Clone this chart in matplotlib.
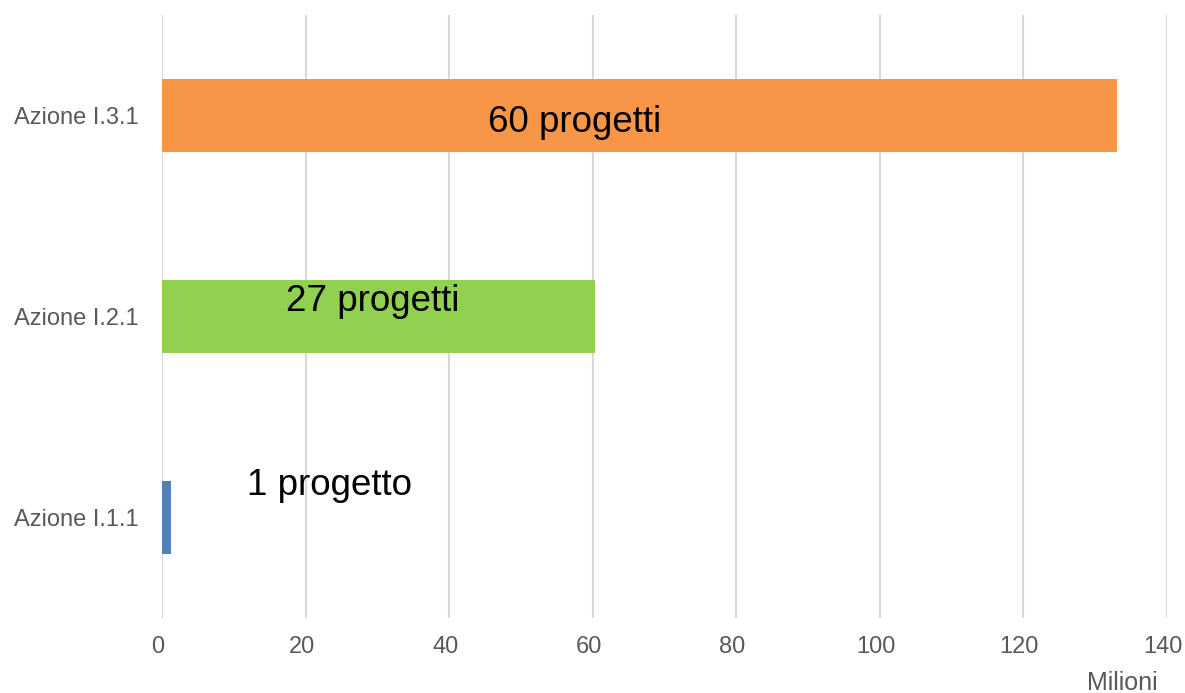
import matplotlib.pyplot as plt
from matplotlib import transforms

plt.rcParams['font.family'] = ['Liberation Sans', 'DejaVu Sans']

# data
categories = ['Azione I.1.1', 'Azione I.2.1', 'Azione I.3.1']
values = [1.25, 60.3, 133.0]
colors = ['#4F81BD', '#92D050', '#F79646']
labels = ['1 progetto', '27 progetti', '60 progetti']
label_x = [11.8, 17.3, 45.4]
label_dy = [0.16, 0.075, -0.035]

fig = plt.figure(figsize=(11.85, 6.93), dpi=100)
ax = fig.add_axes([0.1367, 0.1082, 0.8481, 0.8702])

ypos = range(len(categories))
ax.barh(ypos, values, height=0.36, color=colors, zorder=3)

for i in ypos:
    ax.text(label_x[i], i + label_dy[i], labels[i], fontsize=26.5,
            ha='left', va='center', color='black', zorder=4)

ax.set_xlim(0, 140)
ax.set_ylim(-0.5, 2.5)
ax.set_xticks(range(0, 141, 20))
ax.set_yticks(list(ypos))
ax.set_yticklabels(categories)

ax.grid(axis='x', color='#D9D9D9', linewidth=1.5, zorder=0)
for s in ax.spines.values():
    s.set_visible(False)
ax.tick_params(axis='both', length=0, labelsize=17, labelcolor='#595959')
ax.tick_params(axis='y', pad=17)
ax.tick_params(axis='x', pad=13)

# x tick labels sit slightly left of the gridlines in the original
shift = transforms.ScaledTranslation(-4 / 100, 0, fig.dpi_scale_trans)
for lbl in ax.get_xticklabels():
    lbl.set_transform(lbl.get_transform() + shift)

fig.text(1122 / 1185, 1 - 683 / 693, 'Milioni', fontsize=18, color='#595959',
         ha='center', va='center')

fig.savefig('out.png', dpi=100)
